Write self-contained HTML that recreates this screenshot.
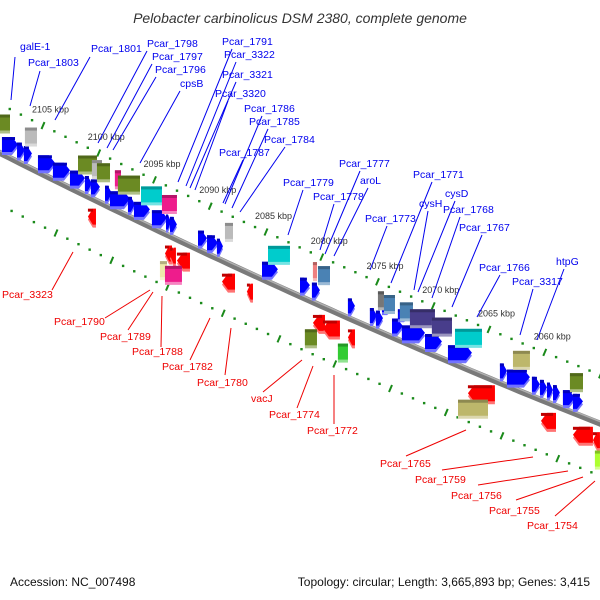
<!DOCTYPE html>
<html>
<head>
<meta charset="utf-8">
<style>
html,body{margin:0;padding:0;background:#fff;}
svg{display:block;font-family:"Liberation Sans",sans-serif;}
</style>
</head>
<body>
<svg id="map" width="600" height="600" viewBox="0 0 600 600" xmlns="http://www.w3.org/2000/svg">
  <text x="300" y="23" text-anchor="middle" font-size="14" font-style="italic" fill="#333">Pelobacter carbinolicus DSM 2380, complete genome</text>
  <text x="10" y="586" font-size="12" fill="#111">Accession: NC_007498</text>
  <text x="590" y="586" text-anchor="end" font-size="12" fill="#111">Topology: circular; Length: 3,665,893 bp; Genes: 3,415</text>
  <g id="ticks"></g>
  <g id="backbone"></g>
  <g id="genes"></g>
  <g id="labels"></g>
</svg>
<script>
// ---- data ----
const tickKbp = [2060, 2065, 2070, 2075, 2080, 2085, 2090, 2095, 2100, 2105];
const geneStart = [2108.68,2107.33,2106.71,2105.45,2104.11,2102.58,2101.24,2100.70,2099.44,2098.99,2097.38,2096.84,2095.23,2093.97,2093.61,2091.10,2090.29,2089.40,2085.36,2081.95,2080.88,2077.65,2075.68,2075.14,2073.70,2072.81,2070.74,2068.68,2064.02,2063.39,2061.15,2060.43,2059.80,2059.26,2058.37,2057.47,
  2074.60,2073.17,
  2108.86,2106.62,2101.86,2100.61,2100.16,2098.55,2098.28,2096.21,2094.33,2088.68,2084.82,2080.79,2080.34,2074.96,2074.42,2072.99,2072.09,2070.12,2068.05,2062.85,2057.74,
  2100.97,2094.06,2093.61,2092.99,2088.95,2086.71,2080.79,2079.89,2077.65,2066.89,2060.34,2057.47,2055.68,
  2094.51,2094.06,2081.51,2078.55,2067.78,2055.50];
const geneEnd = [2107.24,2106.62,2105.99,2103.93,2102.58,2101.24,2100.61,2099.89,2098.82,2097.20,2096.75,2095.41,2093.88,2093.52,2092.99,2090.29,2089.31,2088.86,2083.93,2081.06,2080.16,2077.02,2075.05,2074.51,2072.72,2070.74,2069.22,2066.53,2063.39,2061.33,2060.43,2059.80,2059.26,2058.64,2057.29,2056.57,
  2073.61,2072.09,
  2107.96,2105.54,2100.16,2099.71,2098.99,2098.01,2096.30,2094.33,2092.99,2087.96,2082.85,2080.43,2079.26,2074.42,2073.43,2071.82,2069.85,2068.32,2065.63,2061.33,2056.57,
  2100.25,2093.43,2093.08,2091.82,2087.78,2086.17,2079.71,2078.37,2077.02,2064.47,2058.99,2055.68,2055.05,
  2093.88,2092.54,2080.43,2077.65,2065.09,2055.05];
const geneTrack = ["U1","U1","U1","U1","U1","U1","U1","U1","U1","U1","U1","U1","U1","U1","U1","U1","U1","U1","U1","U1","U1","U1","U1","U1","U1","U1","U1","U1","U1","U1","U1","U1","U1","U1","U1","U1",
  "Um","Um",
  "U2","U2","U2","U2","U2","U2","U2","U2","U2","U2","U2","U2","U2","U2","U2","U2","U2","U2","U2","U2","U2",
  "L1","L1","L1","L1","L1","L1","L1","L1","L1","L1","L1","L1","L1",
  "L2","L2","L2","L2","L2","L2"];
const geneCog = ["b","b","b","b","b","b","b","b","b","b","b","b","b","b","b","b","b","b","b","b","b","b","b","b","b","b","b","b","b","b","b","b","b","b","b","b",
  "b","b",
  "olive","gray","olive","gray","olive","pink","olive","cyan","pink","gray","cyan","pinkl","steel","dgray","steel","steel","slate","slate","cyan","khaki","olive",
  "r","r","r","r","r","r","r","r","r","r","r","r","r",
  "pale","pink","olive","green","khaki","lime"];
const upperLabels = ["galE-1","Pcar_1803","Pcar_1801","Pcar_1798","Pcar_1797","Pcar_1796","cpsB","Pcar_1791","Pcar_3322","Pcar_3321","Pcar_3320","Pcar_1786","Pcar_1785","Pcar_1784","Pcar_1787","Pcar_1779","Pcar_1777","aroL","Pcar_1778","Pcar_1773","Pcar_1771","cysH","cysD","Pcar_1768","Pcar_1767","Pcar_1766","Pcar_3317","htpG"];
const lowerLabels = ["Pcar_3323","Pcar_1790","Pcar_1789","Pcar_1788","Pcar_1782","Pcar_1780","vacJ","Pcar_1774","Pcar_1772","Pcar_1765","Pcar_1759","Pcar_1756","Pcar_1755","Pcar_1754"];

// ---- layout ----
const upperLabelPos = [[20,50,15,57,11,100],[28,66,40,71,30,106],[91,52,90,57,55,120],[147,47,147,51,98,143],[152,60,152,64,107,148],[155,73,156,77,113,150],[180,87,180,91,140,163],[222,45,232,49,178,182],[224,58,236,62,186,186],[222,78,236,82,190,188],[215,97,228,101,195,190],[244,112,262,116,225,204],[249,125,268,129,232,208],[264,143,285,147,240,212],[219,156,243,160,223,203],[283,186,303,190,288,235],[339,167,360,171,325,254],[360,184,368,188,334,256],[313,200,334,204,320,250],[365,222,387,226,370,270],[413,178,432,182,391,283],[419,207,428,211,414,290],[445,197,455,201,418,292],[443,213,460,217,432,298],[459,231,482,235,452,307],[479,271,500,275,477,317],[512,285,533,289,520,335],[556,265,564,269,537,340]];
const lowerLabelPos = [[2,298,52,290,73,252],[54,325,105,318,150,290],[100,340,128,330,153,292],[132,355,161,347,162,296],[162,370,190,360,210,318],[197,386,225,375,231,328],[251,402,263,392,302,360],[269,418,297,408,313,366],[307,434,334,424,334,375],[380,467,406,456,466,430],[415,483,442,470,533,457],[451,499,478,485,568,471],[489,514,516,500,583,477],[527,529,555,516,595,481]];
const trackTop = {U1:-21, Um:-33, U2:-41, L1:10, L2:28};
const trackH = {U1:15, Um:10, U2:16, L1:16, L2:16};
const cogFill = {b:"#0000ff", r:"#ff0000", olive:"#6b8a23", gray:"#bbbbbb", dgray:"#777777", cyan:"#00cccc", pink:"#ee1c8c", pinkl:"#f08080", steel:"#4a82b4", slate:"#483d8b", khaki:"#bdb76b", green:"#33cc33", pale:"#eee8aa", lime:"#adff2f"};

const NS = "http://www.w3.org/2000/svg";
function X(k){ return 43 + (2105 - k) * 11.15; }
function Yb(x){ return 153 + 0.505 * x - 0.00009 * x * x; }
function mk(tag, attrs, parent){ const e = document.createElementNS(NS, tag); for (const a in attrs) e.setAttribute(a, attrs[a]); parent.appendChild(e); return e; }
function shade(hex, f){ const n = parseInt(hex.slice(1),16); let r=n>>16,g=(n>>8)&255,b=n&255; if(f>0){r+= (255-r)*f; g+=(255-g)*f; b+=(255-b)*f;} else {r*=1+f; g*=1+f; b*=1+f;} return "rgb("+Math.round(r)+","+Math.round(g)+","+Math.round(b)+")"; }

// ticks
const gT = document.getElementById("ticks");
for (let k = 2109; k >= 2054; k--) {
  const xu = X(k), yu = Yb(xu) - 49;
  const xl = X(k) + 13, yl = Yb(xl) + 52;
  [[xu, yu, "upper"], [xl, yl, "lower"]].forEach(p => {
    let m;
    if (k % 5 === 0) {
      m = mk("line", {x1:p[0]-1.5, y1:p[1]+3.5, x2:p[0]+1.5, y2:p[1]-3.5, stroke:"#1a8a1a", "stroke-width":2}, gT);
      
    } else {
      m = mk("rect", {x:p[0]-1, y:p[1]-1, width:2.4, height:2.4, fill:"#1a8a1a"}, gT);
      
    }
    
  });
}
tickKbp.forEach(k => {
  const x = X(k), y = Yb(x) - 49;
  const t = mk("text", {x:x-11, y:y-13, "font-size":9, fill:"#333"}, gT);
  t.textContent = k + " kbp";
  
  
});

// backbone
const gB = document.getElementById("backbone");
let pts = [], pts2 = [];
for (let x = -10; x <= 610; x += 10) { pts.push(x + "," + Yb(x).toFixed(1)); pts2.push(x + "," + (Yb(x)-2).toFixed(1)); }
const bb = mk("polyline", {points:pts.join(" "), fill:"none", stroke:"#7a7a7a", "stroke-width":6}, gB);


const bh = mk("polyline", {points:pts2.join(" "), fill:"none", stroke:"#b0b0b0", "stroke-width":1.5}, gB);



// genes
const gG = document.getElementById("genes");
for (let i = 0; i < geneStart.length; i++) {
  const x1 = X(geneStart[i]), x2 = X(geneEnd[i]);
  const tr = geneTrack[i], cog = geneCog[i];
  const y = Yb((x1 + x2) / 2) + trackTop[tr], h = trackH[tr];
  const w = x2 - x1, col = cogFill[cog];
  const g = mk("g", {}, gG);
  
  
  let poly;
  if (cog === "b") {
    const t = Math.min(6, w * 0.6);
    poly = [[x1,y],[x2-t,y],[x2,y+h/2],[x2-t,y+h],[x1,y+h]];
  } else if (cog === "r") {
    const t = Math.min(6, w * 0.6);
    poly = [[x1,y+h/2],[x1+t,y],[x2,y],[x2,y+h],[x1+t,y+h]];
  } else {
    poly = [[x1,y],[x2,y],[x2,y+h],[x1,y+h]];
  }
  const sh = poly.map(p => p[0] + "," + (p[1] + 3)).join(" ");
  mk("polygon", {points:sh, fill:shade(col, 0.45)}, g);
  mk("polygon", {points:poly.map(p => p[0] + "," + p[1]).join(" "), fill:col}, g);
  mk("rect", {x:x1, y:y, width:Math.max(0, w - (cog==="b"||cog==="r" ? 3 : 0)), height:Math.min(3, h/3), fill:shade(col, -0.25)}, g);
}

// labels
const gL = document.getElementById("labels");
function addLabel(name, p, color, kind) {
  const ln = mk("line", {x1:p[2], y1:p[3], x2:p[4], y2:p[5], stroke:color, "stroke-width":1}, gL);
  
  
  const t = mk("text", {x:p[0], y:p[1], "font-size":10.5, fill:color}, gL);
  t.textContent = name;
  
  
}
upperLabels.forEach((n, i) => addLabel(n, upperLabelPos[i], "#0000ee", "forward"));
lowerLabels.forEach((n, i) => addLabel(n, lowerLabelPos[i], "#ee0000", "reverse"));
</script>
</body>
</html>
